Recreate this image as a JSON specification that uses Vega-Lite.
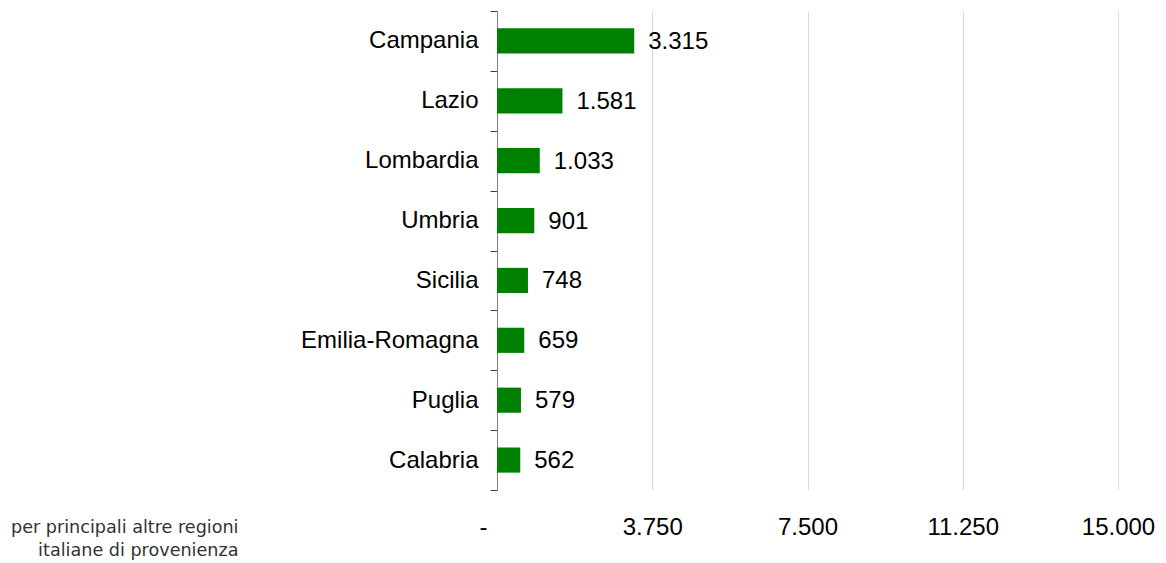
{
  "$schema": "https://vega.github.io/schema/vega-lite/v6.json",
  "autosize": "none",
  "width": 621,
  "height": 479,
  "padding": {"left": 497, "top": 11, "right": 48, "bottom": 73},
  "background": "white",
  "config": {
    "view": {"stroke": null},
    "locale": {"number": {"decimal": ",", "thousands": ".", "grouping": [3], "currency": ["€", ""]}},
    "font": "Liberation Sans"
  },
  "data": {
    "values": [
      {"regione": "Campania", "valore": 3315},
      {"regione": "Lazio", "valore": 1581},
      {"regione": "Lombardia", "valore": 1033},
      {"regione": "Umbria", "valore": 901},
      {"regione": "Sicilia", "valore": 748},
      {"regione": "Emilia-Romagna", "valore": 659},
      {"regione": "Puglia", "valore": 579},
      {"regione": "Calabria", "valore": 562}
    ]
  },
  "encoding": {
    "y": {
      "field": "regione",
      "type": "nominal",
      "sort": null,
      "scale": {"paddingInner": 0, "paddingOuter": 0},
      "axis": {
        "title": null,
        "tickBand": "extent",
        "tickSize": 7,
        "tickColor": "#404040",
        "domainColor": "#808080",
        "labelFontSize": 24,
        "labelColor": "#000000",
        "labelPadding": 12,
        "labelFont": "Liberation Sans"
      }
    },
    "x": {
      "field": "valore",
      "type": "quantitative",
      "scale": {"domain": [0, 15000], "nice": false},
      "axis": {
        "values": [0, 3750, 7500, 11250, 15000],
        "format": ",.0f",
        "labelExpr": "datum.value == 0 ? '-' : datum.label",
        "domain": false,
        "ticks": false,
        "grid": true,
        "gridColor": "#d9d9d9",
        "gridWidth": 1,
        "labelFontSize": 24,
        "labelColor": "#000000",
        "labelPadding": 25,
        "labelOffset": {"condition": {"test": "datum.value == 0", "value": -14}, "value": 0},
        "labelFont": "Liberation Sans",
        "labelFlush": false,
        "title": ["per principali altre regioni", "italiane di provenienza"],
        "titleFont": "DejaVu Sans",
        "titleFontSize": 17.6,
        "titleFontWeight": "normal",
        "titleColor": "#333333",
        "titleAlign": "right",
        "titleAnchor": "start",
        "titleX": -259,
        "titleY": 28,
        "titleBaseline": "top",
        "titleLineHeight": 23
      }
    }
  },
  "layer": [
    {"mark": {"type": "bar", "color": "#008000", "height": {"band": 0.42}}},
    {
      "mark": {"type": "text", "align": "left", "dx": 14, "dy": 1, "fontSize": 24, "color": "#000000", "font": "Liberation Sans"},
      "encoding": {"text": {"field": "valore", "type": "quantitative", "format": ",.0f"}}
    }
  ]
}
